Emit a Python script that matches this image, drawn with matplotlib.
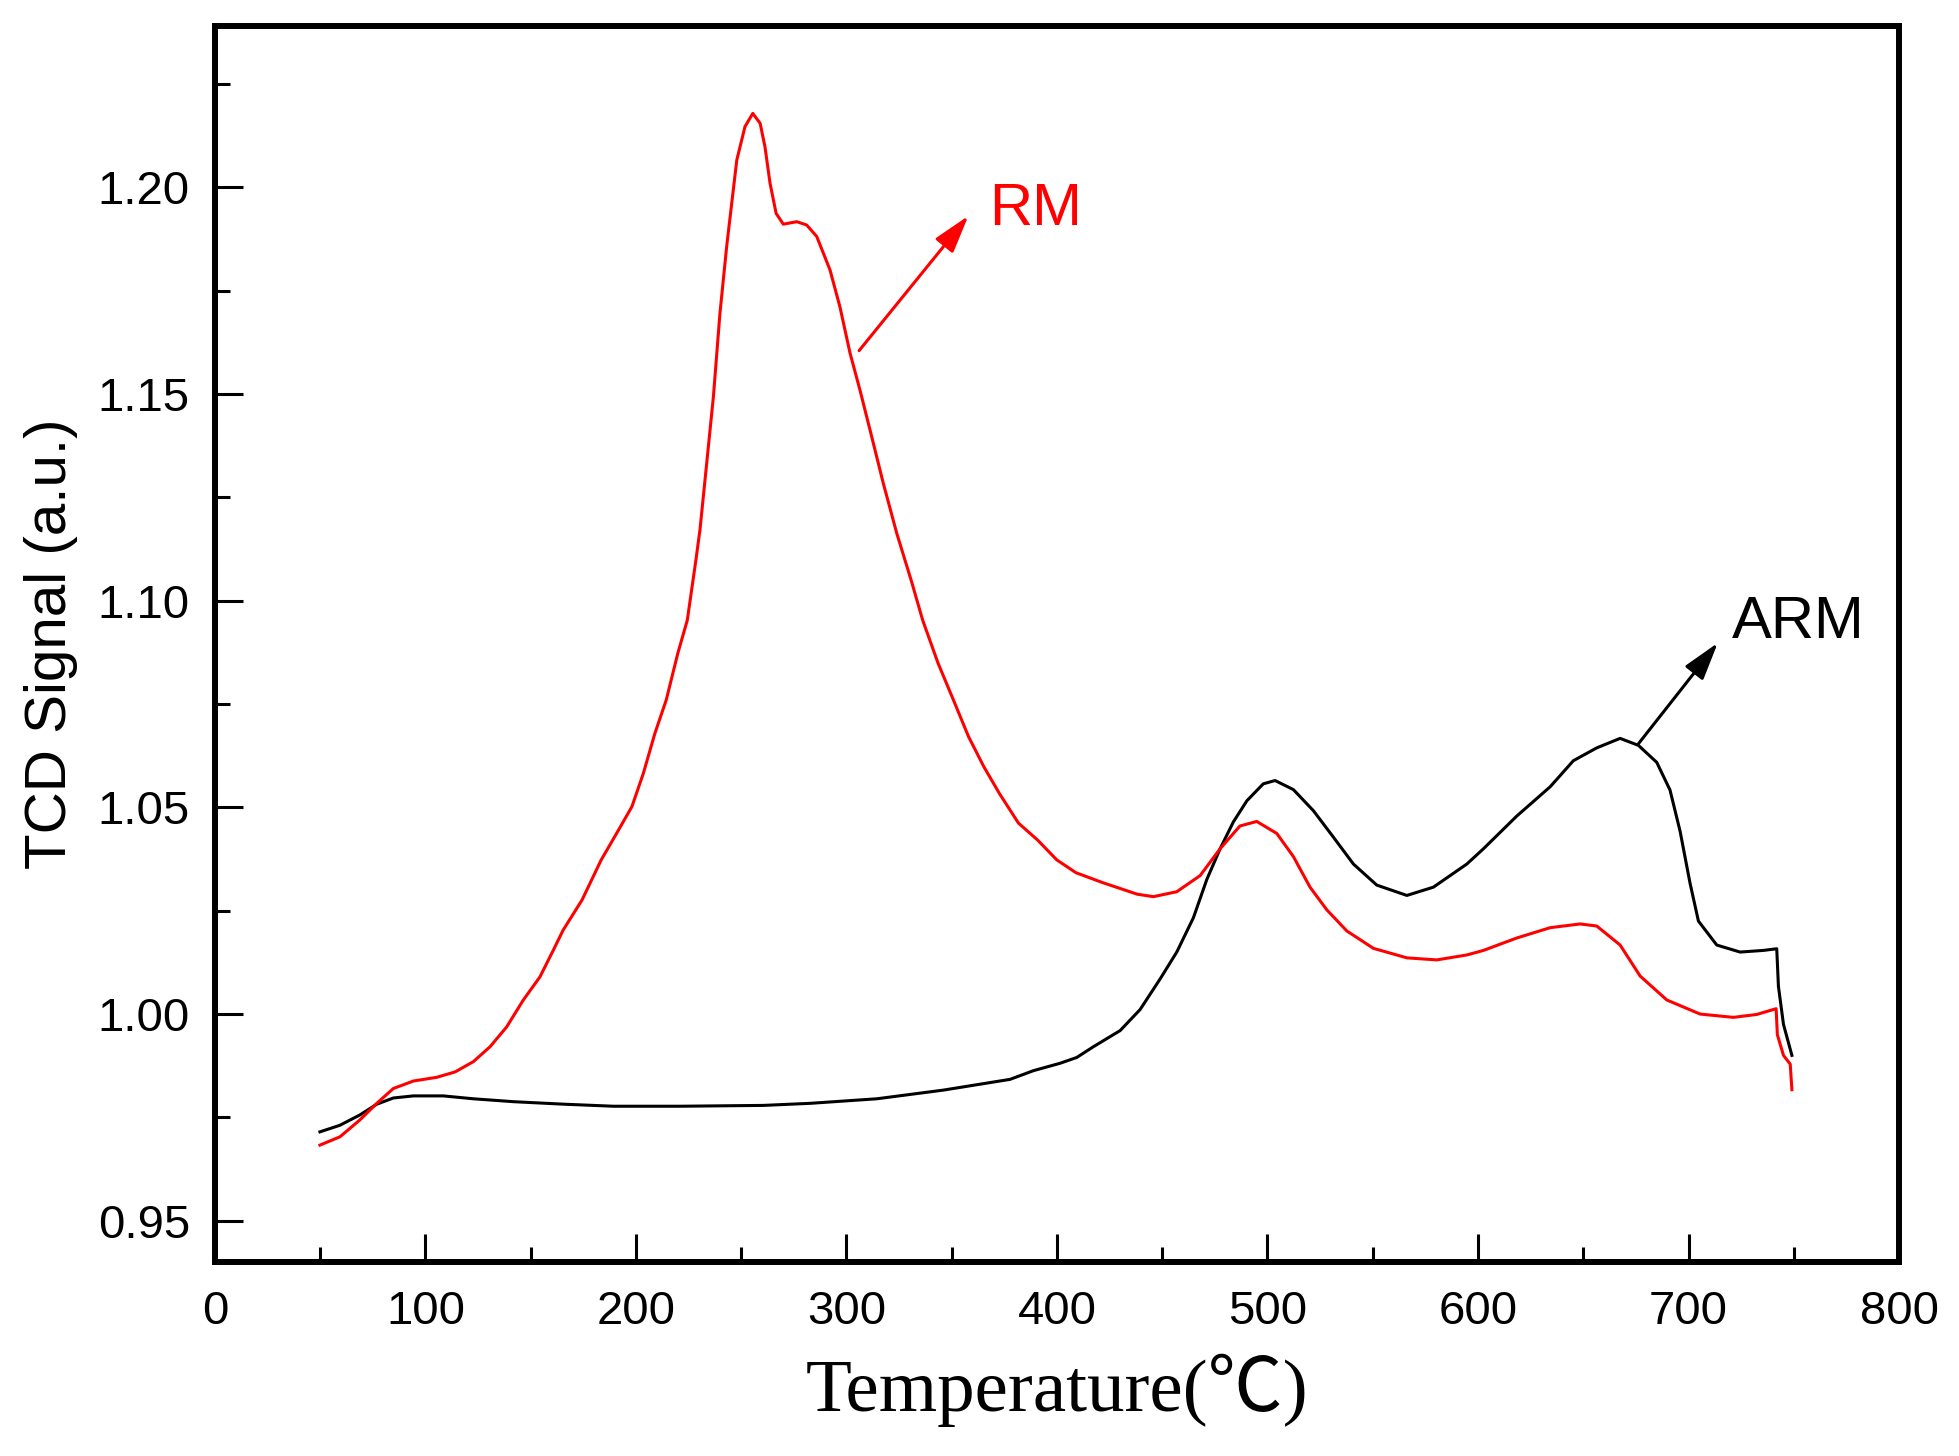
import matplotlib
matplotlib.use('Agg')
import matplotlib.pyplot as plt
from matplotlib.ticker import MultipleLocator

plt.rcParams['font.family'] = ['Liberation Sans', 'DejaVu Sans']

# RM sample (red)
rm_temp = [49.9, 59.4, 68.9, 76.9, 84.8, 94.3, 105.4, 114.1, 122.8, 130.7,
           138.6, 146.5, 154.4, 160.8, 165.4, 174.4, 183.5, 190.8, 198.1, 203.5,
           209.0, 214.4, 219.9, 224.4, 228.5, 230.4, 233.6, 236.8, 239.9, 243.1,
           247.9, 251.8, 255.5, 259.0, 261.3, 263.7, 266.6, 270.0, 276.4, 281.1,
           285.9, 292.2, 296.9, 301.7, 306.4, 311.2, 317.5, 323.9, 331.0, 336.2,
           343.5, 350.8, 358.0, 365.3, 372.6, 381.7, 390.8, 399.9, 409.0, 421.7,
           438.1, 445.8, 456.9, 468.0, 477.5, 486.9, 494.9, 504.4, 512.3, 520.2,
           528.2, 537.7, 550.3, 566.2, 580.4, 594.7, 602.6, 618.4, 634.3, 648.5,
           656.4, 667.5, 677.0, 689.7, 705.5, 721.3, 732.4, 741.6, 742.2, 745.1,
           748.3, 749.1]
rm_signal = [0.9683, 0.9703, 0.9744, 0.9784, 0.9820, 0.9838, 0.9847, 0.9860, 0.9885, 0.9921,
             0.9969, 1.0034, 1.0090, 1.0155, 1.0203, 1.0276, 1.0373, 1.0437, 1.0502, 1.0582,
             1.0679, 1.0760, 1.0873, 1.0953, 1.1099, 1.1171, 1.1332, 1.1494, 1.1695, 1.1857,
             1.2066, 1.2147, 1.2179, 1.2155, 1.2098, 1.2010, 1.1937, 1.1911, 1.1917, 1.1909,
             1.1881, 1.1800, 1.1711, 1.1599, 1.1510, 1.1413, 1.1284, 1.1163, 1.1045, 1.0953,
             1.0849, 1.0760, 1.0671, 1.0598, 1.0534, 1.0462, 1.0421, 1.0373, 1.0342, 1.0318,
             1.0290, 1.0284, 1.0296, 1.0335, 1.0400, 1.0455, 1.0466, 1.0437, 1.0381, 1.0307,
             1.0252, 1.0201, 1.0159, 1.0136, 1.0131, 1.0143, 1.0154, 1.0184, 1.0209, 1.0218,
             1.0213, 1.0167, 1.0092, 1.0034, 1.0000, 0.9992, 0.9999, 1.0013, 0.9950, 0.9900,
             0.9879, 0.9817]

# ARM sample (black)
arm_temp = [49.9, 59.4, 68.9, 76.9, 84.8, 94.3, 108.5, 122.8, 141.8, 165.5,
            189.3, 220.9, 260.5, 282.7, 314.4, 346.0, 377.7, 388.8, 401.5, 409.4,
            417.3, 430.0, 439.5, 449.0, 456.9, 464.8, 471.2, 477.5, 483.8, 490.2,
            498.0, 503.6, 512.3, 521.8, 531.3, 540.8, 551.9, 566.2, 578.8, 594.7,
            602.6, 618.4, 634.3, 645.3, 656.4, 667.5, 676.2, 684.9, 691.2, 696.0,
            700.7, 704.7, 713.4, 724.5, 735.6, 741.9, 742.7, 745.1, 749.1]
arm_signal = [0.9715, 0.9731, 0.9756, 0.9782, 0.9797, 0.9802, 0.9802, 0.9795, 0.9788, 0.9782,
              0.9777, 0.9777, 0.9779, 0.9784, 0.9795, 0.9816, 0.9842, 0.9863, 0.9881, 0.9895,
              0.9921, 0.9960, 1.0011, 1.0085, 1.0150, 1.0233, 1.0326, 1.0400, 1.0465, 1.0516,
              1.0557, 1.0565, 1.0543, 1.0492, 1.0428, 1.0363, 1.0312, 1.0287, 1.0307, 1.0363,
              1.0400, 1.0479, 1.0550, 1.0613, 1.0644, 1.0667, 1.0650, 1.0609, 1.0542, 1.0442,
              1.0317, 1.0225, 1.0167, 1.0150, 1.0154, 1.0158, 1.0067, 0.9975, 0.9900]

fig = plt.figure(figsize=(19.59, 14.56), dpi=100)
ax = fig.add_axes([0.1097, 0.1332, 0.8597, 0.8491])

ax.plot(arm_temp, arm_signal, color='black', lw=2.2, solid_joinstyle='round')
ax.plot(rm_temp, rm_signal, color='#ff0000', lw=2.2, solid_joinstyle='round')

ax.set_xlim(0, 800)
ax.set_ylim(0.940, 1.2391)
ax.xaxis.set_major_locator(MultipleLocator(100))
ax.xaxis.set_minor_locator(MultipleLocator(50))
ax.yaxis.set_major_locator(MultipleLocator(0.05))
ax.yaxis.set_minor_locator(MultipleLocator(0.025))
ax.yaxis.set_major_formatter(matplotlib.ticker.FormatStrFormatter('%.2f'))

for s in ax.spines.values():
    s.set_linewidth(4.3)

ax.tick_params(which='both', direction='in', top=False, right=False, width=2.2)
ax.tick_params(which='major', length=20, labelsize=34)
ax.tick_params(which='minor', length=11)
ax.tick_params(axis='x', which='major', pad=20)
ax.tick_params(axis='y', which='major', pad=18)

ax.set_ylabel('TCD Signal (a.u.)', fontsize=42, labelpad=14)
ax.set_xlabel('Temperature(℃)', fontsize=54, labelpad=14,
              family=['Liberation Serif', 'Noto Sans CJK SC', 'DejaVu Serif'])

# labels with arrows
ax.annotate('', xy=(357.9, 1.1931), xytext=(306.0, 1.1605),
            arrowprops=dict(arrowstyle='-|>,head_length=0.4,head_width=0.12',
                            color='#ff0000', lw=2.2, mutation_scale=58,
                            shrinkA=0, shrinkB=0))
ax.text(389.6, 1.1909, 'RM', color='#ff0000', fontsize=43, ha='center', va='baseline')

ax.annotate('', xy=(713.9, 1.0898), xytext=(676.2, 1.0654),
            arrowprops=dict(arrowstyle='-|>,head_length=0.4,head_width=0.12',
                            color='black', lw=2.2, mutation_scale=58,
                            shrinkA=0, shrinkB=0))
ax.text(752.1, 1.0909, 'ARM', color='black', fontsize=43, ha='center', va='baseline')

fig.savefig('out.png', dpi=100)
